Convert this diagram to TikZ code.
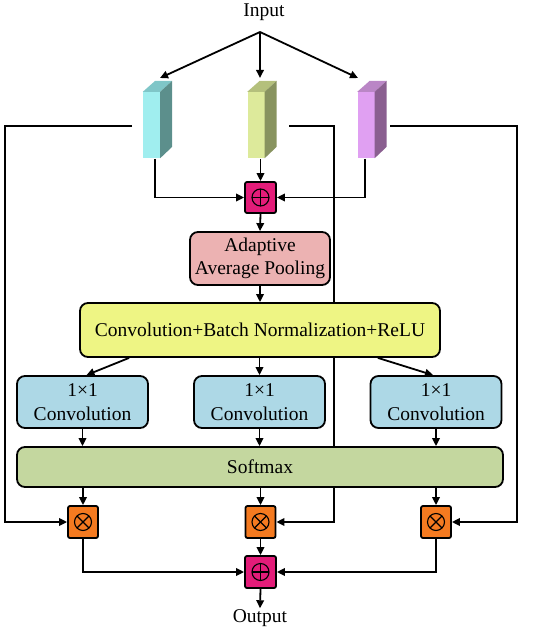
\documentclass[tikz,border=0pt]{standalone}
\usepackage{fontspec}
\setmainfont{Liberation Serif}
\usetikzlibrary{arrows.meta,calc,backgrounds}
\definecolor{cyF}{HTML}{A0EEEF}
\definecolor{cyS}{HTML}{5C8F8C}
\definecolor{cyT}{HTML}{7FC6C8}
\definecolor{ygF}{HTML}{DDEA9B}
\definecolor{ygS}{HTML}{88935F}
\definecolor{ygT}{HTML}{B4C07C}
\definecolor{puF}{HTML}{E0A0F2}
\definecolor{puS}{HTML}{8A5F90}
\definecolor{puT}{HTML}{BA86C6}
\definecolor{plusC}{HTML}{E31C79}
\definecolor{mulC}{HTML}{F47A20}
\definecolor{adaC}{HTML}{ECB2B2}
\definecolor{cbrC}{HTML}{EEF584}
\definecolor{oneC}{HTML}{ADD8E6}
\definecolor{softC}{HTML}{C4D79F}
\begin{document}
\begin{tikzpicture}[x=1pt,y=-1pt,
  arr/.style={-{Triangle[length=8pt,width=7.5pt]}, line width=1.8pt},
  txt/.style={font=\fontsize{19.5}{22}\selectfont, inner sep=1pt},
  box/.style={draw, line width=1.8pt, rounded corners=8pt, align=center,
    font=\fontsize{19.5}{23.5}\selectfont, inner sep=0pt},
  op/.style={draw, line width=1.8pt, rounded corners=2pt, inner sep=0pt},
  plusop/.style={op, fill=plusC, minimum width=31pt, minimum height=31pt,
    path picture={
      \draw[line width=1.1pt] (path picture bounding box.center) circle[radius=8.5pt];
      \draw[line width=1.1pt] (path picture bounding box.center) ++(-8.5pt,0) -- ++(17pt,0);
      \draw[line width=1.1pt] (path picture bounding box.center) ++(0,-8.5pt) -- ++(0,17pt);}},
  mulop/.style={op, fill=mulC, minimum width=30pt, minimum height=32pt,
    path picture={
      \draw[line width=1.1pt] (path picture bounding box.center) circle[radius=8.5pt];
      \draw[line width=1.1pt] (path picture bounding box.center) ++(-6pt,-6pt) -- ++(12pt,12pt);
      \draw[line width=1.1pt] (path picture bounding box.center) ++(-6pt,6pt) -- ++(12pt,-12pt);}},
  face/.style={inner sep=0pt, minimum width=17pt, minimum height=66pt},
]
\useasboundingbox (0,0) rectangle (550,631);

% input
\node[txt] (in) at (264,12) {Input};
\coordinate (split) at (260,32);
\coordinate (tL) at (160,78);
\coordinate (tM) at (260,78);
\coordinate (tR) at (358,78);

% blocks
\node[face, fill=cyF] (bL) at (151.5,125) {};
\fill[cyT] (bL.north west) -- (bL.north east) -- ++(12,-11) -- ++(-17,0) -- cycle;
\fill[cyS] (bL.north east) -- ++(12,-11) -- ++(0,66) -- (bL.south east) -- cycle;
\node[face, fill=ygF] (bM) at (256,125) {};
\fill[ygT] (bM.north west) -- (bM.north east) -- ++(12,-11) -- ++(-17,0) -- cycle;
\fill[ygS] (bM.north east) -- ++(12,-11) -- ++(0,66) -- (bM.south east) -- cycle;
\node[face, fill=puF] (bR) at (366,125) {};
\fill[puT] (bR.north west) -- (bR.north east) -- ++(12,-11) -- ++(-17,0) -- cycle;
\fill[puS] (bR.north east) -- ++(12,-11) -- ++(0,66) -- (bR.south east) -- cycle;

\draw[arr] (split) -- (tL);
\draw[arr] (split) -- (tM);
\draw[arr] (split) -- (tR);

% first sum
\node[plusop] (p1) at (260.5,197.5) {};
\coordinate (sL) at (155,159);
\coordinate (sM) at (260.5,159);
\coordinate (sR) at (365,159);
\draw[arr] (sL) |- (p1.west);
\draw[arr] (sM) -- (p1.north);
\draw[arr] (sR) |- (p1.east);

% main boxes
\node[box, fill=adaC, minimum width=140pt, minimum height=53pt] (ada) at (260,258.5) {Adaptive\\Average Pooling};
\node[box, fill=cbrC, minimum width=360pt, minimum height=54pt] (cbr) at (260,330) {Convolution+Batch Normalization+ReLU};
\node[box, fill=oneC, minimum width=131pt, minimum height=52pt] (cL) at (82.5,402) {1×1\\Convolution};
\node[box, fill=oneC, minimum width=131pt, minimum height=52pt] (cM) at (259.5,402) {1×1\\Convolution};
\node[box, fill=oneC, minimum width=131pt, minimum height=52pt] (cR) at (436,402) {1×1\\Convolution};
\node[box, fill=softC, minimum width=486pt, minimum height=40pt] (soft) at (260,467) {Softmax};

\draw[arr] (p1.south) -- (ada.north);
\draw[arr] (ada.south) -- (cbr.north);
\draw[arr] ($(cbr.south west)+(50,0)$) -- ($(cL.north)+(4,0)$);
\draw[arr] (cbr.south -| cM.north) -- (cM.north);
\draw[arr] ($(cbr.south east)+(-63,0)$) -- ($(cR.north)+(-3,0)$);
\draw[arr] (cL.south) -- (cL.south |- soft.north);
\draw[arr] (cM.south) -- (cM.south |- soft.north);
\draw[arr] (cR.south) -- (cR.south |- soft.north);

% products
\node[mulop] (mL) at (83,522) {};
\node[mulop] (mM) at (260.5,522) {};
\node[mulop] (mR) at (436,522) {};
\draw[arr] (mL.north |- soft.south) -- (mL.north);
\draw[arr] (mM.north |- soft.south) -- (mM.north);
\draw[arr] (mR.north |- soft.south) -- (mR.north);

% skip lines (behind boxes)
\coordinate (oL) at (132,126);
\coordinate (kL) at (5,126);
\coordinate (oM) at (289,126);
\coordinate (kM) at (334,126);
\coordinate (oR) at (390,126);
\coordinate (kR) at (517,126);
\begin{pgfonlayer}{background}
\draw[arr] (oL) -- (kL) |- (mL.west);
\draw[arr] (oM) -- (kM) |- (mM.east);
\draw[arr] (oR) -- (kR) |- (mR.east);
\end{pgfonlayer}

% final sum
\node[plusop, minimum height=32pt] (p2) at (260.5,572) {};
\draw[arr] (mL.south) |- (p2.west);
\draw[arr] (mM.south) -- (p2.north);
\draw[arr] (mR.south) |- (p2.east);
\node[txt] (out) at (260,618) {Output};
\draw[arr] (p2.south) -- (out.north);
\end{tikzpicture}
\end{document}
